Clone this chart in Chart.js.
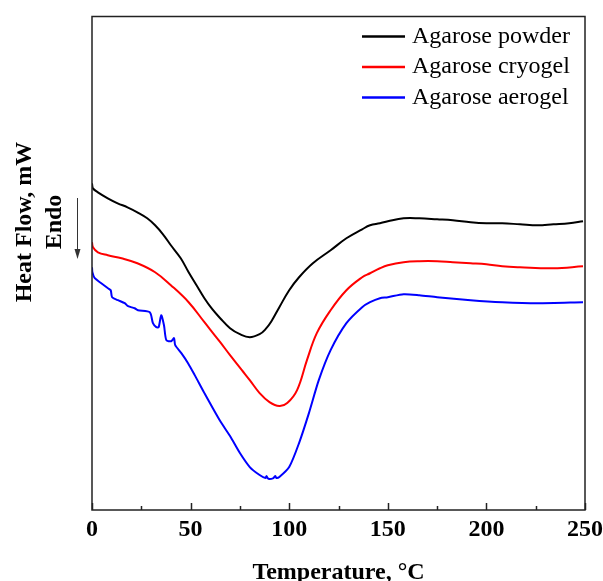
<!DOCTYPE html>
<html><head><meta charset="utf-8">
<script src="https://cdn.jsdelivr.net/npm/chart.js@4"></script>
<style>html,body{margin:0;padding:0;background:#fff}</style>
</head><body>
<canvas id="c" width="603" height="581" style="width:603px;height:581px;display:block"></canvas>
<script>
// ---- data (heat flow in arbitrary units, offset curves) ----
const seriesLabels = ['Agarose powder', 'Agarose cryogel', 'Agarose aerogel'];
const seriesColors = ['#000000', '#ff0000', '#0000ff'];
const xTickValues = [0, 50, 100, 150, 200, 250];

const powderTemp = [0, 0.5, 3, 8, 13, 18, 23, 28, 32, 36, 40, 45, 49, 53, 57, 61, 65, 70, 75, 80, 85, 88, 91, 95, 100, 105, 112, 121, 129, 137, 141, 146, 150, 158, 166, 175, 183, 192, 200, 208, 217, 226, 234, 242, 249];
const powderHeat = [327, 322, 318, 312, 307, 303, 298, 292, 285, 276, 265, 252, 238, 225, 212, 201, 192, 182, 176, 173, 176, 181, 189, 203, 220, 233, 247, 260, 272, 281, 285, 287, 289, 292, 292, 291, 290, 288, 287, 287, 286, 285, 286, 287, 289];

const cryogelTemp = [0, 0.5, 3, 8, 15, 23, 32, 40, 49, 57, 65, 70, 76, 80, 85, 90, 95, 99, 104, 109, 114, 121, 129, 137, 141, 146, 150, 158, 166, 175, 183, 192, 200, 208, 217, 234, 249];
const cryogelHeat = [268, 263, 258, 255, 252, 247, 238, 225, 208, 188, 168, 155, 140, 130, 117, 108, 104, 107, 120, 150, 177, 200, 220, 233, 237, 242, 245, 248, 249, 249, 248, 247, 246, 244, 243, 242, 244];

const aerogelTemp = [0, 0.2, 1.4, 4.7, 8.1, 9.5, 10.2, 13.2, 16.6, 18.3, 21.6, 23.3, 29.3, 30.9, 32.6, 33.8, 35.1, 36.5, 37.7, 40.2, 41.6, 42.2, 45.3, 48.7, 52.1, 57, 65, 70, 75, 80, 85, 88, 88.5, 89, 90, 92, 93, 93.5, 95, 100, 105, 110, 115, 121, 129, 137, 141, 146, 150, 158, 166, 175, 192, 208, 226, 249];
const aerogelHeat = [243, 238, 232, 227, 222, 220, 213, 210, 207, 204, 202, 200, 198, 187, 183, 183, 195, 185, 170, 169, 172, 165, 157, 147, 135, 117, 89, 74, 57, 43, 35, 32, 34, 32, 31, 32, 34, 32, 33, 43, 67, 97, 130, 160, 187, 203, 208, 212, 213, 216, 215, 213, 210, 208, 207, 208];

const xTitle = 'Temperature, \u00B0C';
const yTitle = 'Heat Flow, mW';
const yNote = 'Endo';

const SERIF = '"Liberation Serif", "Times New Roman", serif';

function pts(t, h) { return t.map((v, i) => ({x: v, y: h[i]})); }

const decorPlugin = {
  id: 'decor',
  afterDraw(chart) {
    const ctx = chart.ctx, a = chart.chartArea, xs = chart.scales.x;
    ctx.save();
    // inward tick marks
    ctx.strokeStyle = '#222';
    ctx.lineWidth = 1.5;
    for (let v = xs.min; v <= xs.max; v += 25) {
      const px = Math.round(xs.getPixelForValue(v)) + 0.5;
      const len = (v % 50 === 0) ? 7 : 4;
      ctx.beginPath();
      ctx.moveTo(px, a.bottom);
      ctx.lineTo(px, a.bottom - len);
      ctx.stroke();
    }
    // frame
    ctx.strokeRect(a.left, a.top, a.right - a.left, a.bottom - a.top);

    // legend
    ctx.font = '24px ' + SERIF;
    ctx.textAlign = 'left';
    ctx.textBaseline = 'middle';
    chart.data.datasets.forEach((ds, i) => {
      const y = 36.5 + i * 30.5;
      ctx.strokeStyle = ds.borderColor;
      ctx.lineWidth = 2.5;
      ctx.beginPath();
      ctx.moveTo(362, y);
      ctx.lineTo(405, y);
      ctx.stroke();
      ctx.fillStyle = '#000';
      ctx.fillText(ds.label, 412, y);
    });

    // y title, note and arrow
    ctx.fillStyle = '#000';
    ctx.font = 'bold 24px ' + SERIF;
    ctx.textAlign = 'center';
    ctx.textBaseline = 'middle';
    ctx.save();
    ctx.translate(25, 222);
    ctx.rotate(-Math.PI / 2);
    ctx.fillText(yTitle, 0, 0);
    ctx.restore();
    ctx.save();
    ctx.translate(55, 222);
    ctx.rotate(-Math.PI / 2);
    ctx.fillText(yNote, 0, 0);
    ctx.restore();
    ctx.strokeStyle = '#333';
    ctx.lineWidth = 1;
    ctx.beginPath();
    ctx.moveTo(77.5, 198);
    ctx.lineTo(77.5, 252);
    ctx.stroke();
    ctx.fillStyle = '#333';
    ctx.beginPath();
    ctx.moveTo(74.5, 249);
    ctx.lineTo(80.5, 249);
    ctx.lineTo(77.5, 259);
    ctx.closePath();
    ctx.fill();
    ctx.restore();
  }
};

const datasets = [
  {label: seriesLabels[0], data: pts(powderTemp, powderHeat), borderColor: seriesColors[0], tension: 0.4},
  {label: seriesLabels[1], data: pts(cryogelTemp, cryogelHeat), borderColor: seriesColors[1], tension: 0.4},
  {label: seriesLabels[2], data: pts(aerogelTemp, aerogelHeat), borderColor: seriesColors[2], tension: 0.25}
].map(d => Object.assign(d, {borderWidth: 2, pointRadius: 0, fill: false}));

new Chart(document.getElementById('c'), {
  type: 'line',
  data: {datasets},
  options: {
    responsive: false,
    animation: false,
    devicePixelRatio: 1,
    layout: {padding: {left: 92, right: 18, top: 16.5, bottom: 0}},
    plugins: {legend: {display: false}, tooltip: {enabled: false}},
    scales: {
      x: {
        type: 'linear',
        min: 0, max: 250,
        afterBuildTicks: s => { s.ticks = xTickValues.map(v => ({value: v})); },
        afterFit: s => { s.height = 71; s.paddingLeft = 0; s.paddingRight = 0; },
        grid: {display: false, drawTicks: false},
        border: {display: false},
        ticks: {
          color: '#000', padding: 8, maxRotation: 0, autoSkip: false,
          font: {family: SERIF, size: 24, weight: 'bold', lineHeight: 1}
        },
        title: {
          display: true, text: xTitle, color: '#000',
          font: {family: SERIF, size: 24, weight: 'bold', lineHeight: 0.8},
          padding: {top: 0, bottom: -1}
        }
      },
      y: {
        type: 'linear', display: false, min: 0, max: 494
      }
    }
  },
  plugins: [decorPlugin]
});
</script>
</body></html>
